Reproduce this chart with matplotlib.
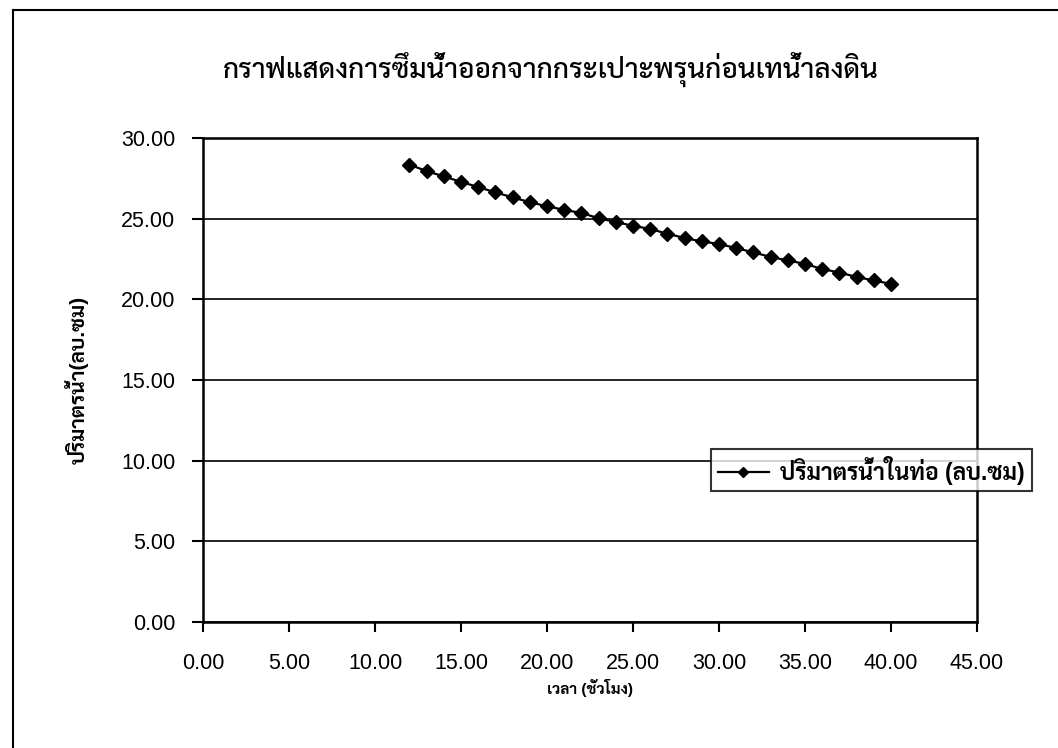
import matplotlib
matplotlib.use("Agg")
import matplotlib.pyplot as plt
from matplotlib.lines import Line2D
import numpy as np

# ข้อมูลที่อ่านจากกราฟ
hours = [12, 13, 14, 15, 16, 17, 18, 19, 20, 21, 22, 23, 24, 25, 26,
         27, 28, 29, 30, 31, 32, 33, 34, 35, 36, 37, 38, 39, 40]
volume = [28.35, 27.95, 27.62, 27.28, 26.96, 26.63, 26.32, 26.02, 25.77, 25.55,
          25.35, 25.03, 24.79, 24.56, 24.36, 24.07, 23.80, 23.59, 23.43, 23.18,
          22.91, 22.63, 22.41, 22.20, 21.88, 21.66, 21.39, 21.17, 20.96]
x_ticks = np.arange(0, 46, 5)
y_ticks = np.arange(0, 31, 5)

title = "กราฟแสดงการซึมน้ำออกจากกระเปาะพรุนก่อนเทน้ำลงดิน"
x_label = "เวลา (ชั่วโมง)"
y_label = "ปริมาตรน้ำ(ลบ.ซม)"
series_name = "ปริมาตรน้ำในท่อ (ลบ.ซม)"

fonts = ["Liberation Sans", "Sarabun"]
plt.rcParams["font.family"] = fonts

fig = plt.figure(figsize=(10.58, 7.48), dpi=100)
ax = fig.add_axes([0.1919, 0.1684, 0.7315, 0.6471])

ax.plot(hours, volume, color="black", lw=1.6, marker="D", markersize=7,
        label=series_name)

ax.set_xlim(0, 45)
ax.set_ylim(0, 30)
ax.set_xticks(x_ticks)
ax.set_yticks(y_ticks)
ax.set_xticklabels(["%.2f" % v for v in x_ticks], fontsize=15.5)
ax.set_yticklabels(["%.2f" % v for v in y_ticks], fontsize=15.5)
ax.tick_params(axis="x", direction="out", length=7, width=1.5, pad=15)
ax.tick_params(axis="y", direction="out", length=8, width=1.5, pad=12)
ax.yaxis.grid(True, color="black", lw=1.2)
ax.set_axisbelow(True)
for s in ax.spines.values():
    s.set_linewidth(1.8)

ax.set_xlabel(x_label, fontsize=11, fontweight="bold", labelpad=4)
ax.set_ylabel(y_label, fontsize=15, fontweight="bold", labelpad=23)
fig.text(0.521, 0.907, title, ha="center", va="center", fontsize=20,
         fontweight="medium")

leg = ax.legend(loc="center left", bbox_to_anchor=(0.642, 0.314),
                frameon=True, fancybox=False, edgecolor="black",
                prop={"size": 16.5, "weight": "bold"}, handlelength=2.2,
                borderpad=0.3, handletextpad=0.5, markerscale=0.7)
leg.get_frame().set_linewidth(1.5)

# กรอบรอบภาพ (ขอบซ้ายและขอบบน)
fig.add_artist(Line2D([0.0123, 0.0123], [0.0, 0.987], color="black", lw=1.5))
fig.add_artist(Line2D([0.0123, 1.0], [0.987, 0.987], color="black", lw=1.5))

fig.savefig("out.png")
